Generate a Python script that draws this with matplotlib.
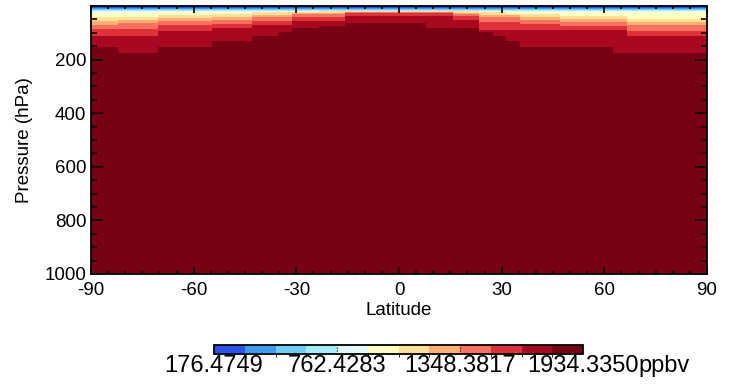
import numpy as np
import matplotlib
matplotlib.use("Agg")
import matplotlib.pyplot as plt
from matplotlib.colors import ListedColormap, BoundaryNorm

plt.rcParams['font.family'] = ['Liberation Sans', 'DejaVu Sans']
plt.rcParams['axes.unicode_minus'] = False

# colour table (12 classes)
colors = ['#2a52f0', '#3c9cf0', '#6ccdf8', '#a0eefa', '#e0fcfc', '#ffffc0',
          '#ffe094', '#ffb070', '#f87060', '#e03038', '#a80820', '#780015']
cb_min, cb_max = 176.4749, 1934.3350
cb_ticks = [176.4749, 762.4283, 1348.3817, 1934.3350]

n_lat = 46          # latitude cells from -90 to 90
p_top, p_bot = 0, 1000

# pressure (hPa) at the bottom of each colour class, per latitude cell,
# written as (value, number of cells) runs from south to north
class_bottoms = [
    [(7.5, 46)],
    [(11, 46)],
    [(15, 46)],
    [(19, 46)],
    [(26, 5), (22.4, 9), (20, 18), (24, 14)],
    [(41, 5), (33.6, 4), (30, 3), (24, 2), (21, 3), (20.5, 12), (24, 2),
     (30, 4), (37, 5), (48.5, 6)],
    [(56, 2), (52, 3), (45, 4), (41, 3), (33.6, 3), (26, 4), (21, 8), (26, 2),
     (33.6, 3), (41, 3), (48.5, 5), (60, 6)],
    [(71, 2), (63.4, 3), (56, 4), (52, 3), (41, 3), (30, 4), (22, 8), (30, 2),
     (41, 3), (52, 3), (60, 5), (71, 6)],
    [(86, 5), (71, 4), (67, 3), (56, 3), (41, 4), (26, 8), (37, 2), (60, 3),
     (67, 3), (75, 5), (93, 6)],
    [(112, 5), (93, 4), (82, 3), (71, 3), (56, 4), (37, 8), (52, 2), (90, 11),
     (112, 6)],
    [(152, 2), (174, 3), (152, 4), (129, 3), (112, 2), (96, 1), (83, 2),
     (75, 2), (65, 6), (83, 4), (96, 1), (112, 1), (129, 1), (152, 7),
     (174, 7)],
]

bottoms = np.array([sum(([v] * n for v, n in runs), []) for runs in class_bottoms])
p_edges = np.unique(np.concatenate([[p_top, p_bot], bottoms.ravel()]))
p_mid = (p_edges[:-1] + p_edges[1:]) / 2
ch4_class = (p_mid[:, None, None] > bottoms[None, :, :]).sum(axis=1)
step = (cb_max - cb_min) / len(colors)
ch4 = cb_min + (ch4_class + 0.5) * step

lat_edges = np.linspace(-90, 90, n_lat + 1)
cmap = ListedColormap(colors)
bounds = np.linspace(cb_min, cb_max, len(colors) + 1)
norm = BoundaryNorm(bounds, cmap.N)

fig = plt.figure(figsize=(7.39, 3.87), dpi=100)
ax = fig.add_axes([91 / 739, 1 - 274 / 387, 616 / 739, 268 / 387])
mesh = ax.pcolormesh(lat_edges, p_edges, ch4, cmap=cmap, norm=norm)
ax.set_xlim(-90, 90)
ax.set_ylim(1000, 0)
ax.set_xticks([-90, -60, -30, 0, 30, 60, 90])
ax.set_xticks(np.arange(-90, 91, 5), minor=True)
ax.set_yticks([200, 400, 600, 800, 1000])
ax.set_yticks(np.arange(0, 1001, 50), minor=True)
ax.tick_params(which='both', direction='in', top=True, right=True,
               labelsize=13.5, colors='black', width=1.2)
ax.tick_params(axis='y', which='major', length=8.5, pad=3.5)
ax.tick_params(axis='y', which='minor', length=4.3)
ax.tick_params(axis='x', which='major', length=5, pad=6)
ax.tick_params(axis='x', which='minor', length=2.5)
for s in ax.spines.values():
    s.set_linewidth(1.3)
ax.set_xlabel('Latitude', fontsize=13.5, labelpad=2)
ax.set_ylabel('Pressure (hPa)', fontsize=13.5, labelpad=8)

cax = fig.add_axes([214 / 739, 1 - 353.5 / 387, 369 / 739, 9 / 387])
cb = fig.colorbar(mesh, cax=cax, orientation='horizontal', ticks=cb_ticks)
cb.ax.set_xticklabels(['%.4f' % t for t in cb_ticks])
cb.ax.tick_params(length=0, labelsize=17, pad=1)
cb.outline.set_linewidth(1.3)
for t in cb_ticks[1:-1]:
    cax.axvline(t, color='black', lw=0.8, ls=':')

fig.canvas.draw()
last = cb.ax.get_xticklabels()[-1].get_window_extent()
fig.text(last.x1 / fig.bbox.width, (last.y0 + last.y1) / 2 / fig.bbox.height,
         'ppbv', fontsize=17, ha='left', va='center')

fig.savefig('out.png', dpi=100)
